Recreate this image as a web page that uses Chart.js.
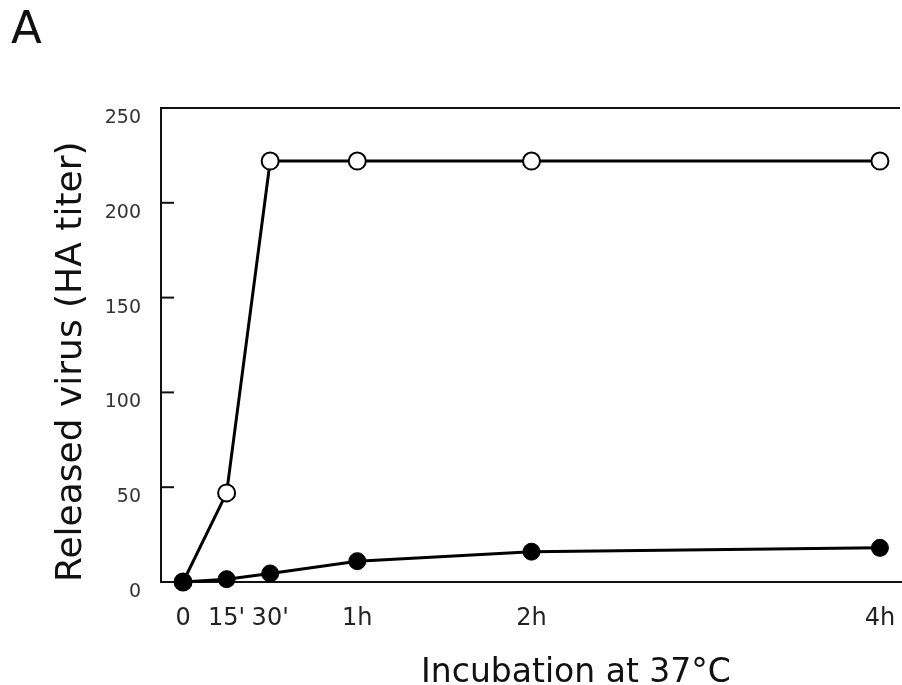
<!DOCTYPE html>
<html>
<head>
<meta charset="utf-8">
<script src="https://cdn.jsdelivr.net/npm/chart.js@4.4.1/dist/chart.umd.min.js"></script>
<style>
  html, body { margin: 0; padding: 0; background: #ffffff; }
  canvas { display: block; }
</style>
</head>
<body>
<canvas id="c" width="902" height="685"></canvas>
<script>
// Time points (minutes of incubation at 37 °C)
const minutes = [0, 15, 30, 60, 120, 240];
const xTickLabels = ["0", "15'", "30'", "1h", "2h", "4h"];
// Open circles
const openSeries = [0, 47, 222, 222, 222, 222];
// Filled circles
const filledSeries = [0, 1.5, 4.5, 11, 16, 18];
const yTicks = [0, 50, 100, 150, 200, 250];

const panelLabel = "A";
const xTitle = "Incubation at 37°C";
const yTitle = "Released virus (HA titer)";

const FONT = "'DejaVu Sans', 'Noto Sans', sans-serif";
const INK = "#111";

const toPoints = (arr) => minutes.map((m, i) => ({ x: m, y: arr[i] }));

const framePlugin = {
  id: 'frame',
  afterDraw(chart) {
    const ctx = chart.ctx;
    const a = chart.chartArea;
    const ys = chart.scales.y;
    ctx.save();
    ctx.strokeStyle = INK;
    ctx.lineWidth = 2;
    // top border
    ctx.beginPath();
    ctx.moveTo(a.left - 1, a.top);
    ctx.lineTo(a.right - 2, a.top);
    ctx.stroke();
    // inward tick marks on y axis
    yTicks.forEach(v => {
      const py = ys.getPixelForValue(v);
      ctx.beginPath();
      ctx.moveTo(a.left, py);
      ctx.lineTo(a.left + 13, py);
      ctx.stroke();
    });
    // panel label
    ctx.fillStyle = INK;
    ctx.textAlign = 'left';
    ctx.textBaseline = 'alphabetic';
    ctx.font = "45px " + FONT;
    ctx.fillText(panelLabel, 11, 43);
    // x axis title
    ctx.font = "33px " + FONT;
    ctx.textAlign = 'center';
    ctx.fillText(xTitle, 576, 682);
    ctx.restore();
  }
};

new Chart(document.getElementById('c'), {
  type: 'line',
  data: {
    datasets: [
      {
        label: 'filled',
        data: toPoints(filledSeries),
        borderColor: '#000',
        borderWidth: 3,
        backgroundColor: '#000',
        pointBackgroundColor: '#000',
        pointBorderColor: '#000',
        pointBorderWidth: 1,
        pointRadius: 8.5,
        tension: 0,
        clip: false,
        order: 0
      },
      {
        label: 'open',
        data: toPoints(openSeries),
        borderColor: '#000',
        borderWidth: 3,
        pointBackgroundColor: '#fff',
        pointBorderColor: '#000',
        pointBorderWidth: 2,
        pointRadius: 8.5,
        tension: 0,
        clip: false,
        order: 1
      }
    ]
  },
  options: {
    responsive: false,
    animation: false,
    events: [],
    layout: { autoPadding: false, padding: { top: 108, right: 0, left: 0, bottom: 0 } },
    plugins: {
      legend: { display: false },
      tooltip: { enabled: false },
      title: { display: false }
    },
    scales: {
      x: {
        type: 'linear',
        min: -7.6,
        max: 247.6,
        afterFit: (s) => { s.height = 103; s.paddingLeft = 0; s.paddingRight = 0; },
        afterBuildTicks: (s) => { s.ticks = minutes.map(v => ({ value: v })); },
        grid: { display: false, drawTicks: false },
        border: { display: true, color: INK, width: 2 },
        ticks: {
          autoSkip: false,
          maxRotation: 0,
          padding: 22,
          color: '#222',
          font: { family: FONT, size: 24 },
          callback: (v) => { const i = minutes.indexOf(v); return i >= 0 ? xTickLabels[i] : ''; }
        }
      },
      y: {
        type: 'linear',
        min: 0,
        max: 250,
        afterFit: (s) => { s.width = 161; s.paddingTop = 0; s.paddingBottom = 0; },
        afterBuildTicks: (s) => { s.ticks = yTicks.map(v => ({ value: v })); },
        grid: { display: false, drawTicks: false },
        border: { display: true, color: INK, width: 2 },
        ticks: {
          padding: 20,
          labelOffset: 10,
          color: '#333',
          font: { family: FONT, size: 19 },
          callback: (v) => String(v)
        },
        title: {
          display: true,
          text: yTitle,
          align: 'start',
          color: INK,
          font: { family: FONT, size: 36 },
          padding: { top: 50, bottom: 0 }
        }
      }
    }
  },
  plugins: [framePlugin]
});
</script>
</body>
</html>
